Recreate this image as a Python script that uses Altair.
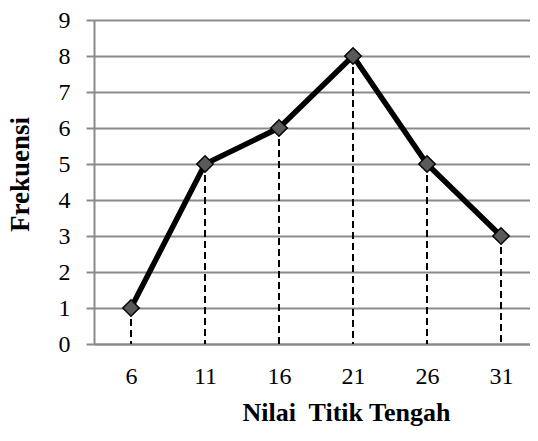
import altair as alt
import pandas as pd

midpoints = [6, 11, 16, 21, 26, 31]
frequencies = [1, 5, 6, 8, 5, 3]
y_ticks = list(range(0, 10))

df = pd.DataFrame({"x": midpoints, "y": frequencies})

FONT = "Liberation Serif"
GRID = "#8a8a8a"

PLOT_W = 436
X_STEP = 74 / 5  # pixels per unit as in the reference layout
xscale = alt.Scale(domain=[3.5, 3.5 + PLOT_W / X_STEP], nice=False, zero=False)
yscale = alt.Scale(domain=[0, 9], nice=False)

x_axis = alt.Axis(
    values=midpoints,
    grid=False,
    ticks=False,
    tickSize=0,
    domainColor=GRID,
    domainWidth=2,
    labelFont=FONT,
    labelFontSize=24,
    labelColor="black",
    labelPadding=20,
    labelBaseline="top",
    title="Nilai\u00a0 Titik Tengah",
    titleFont=FONT,
    titleFontSize=26,
    titleFontWeight="bold",
    titleColor="black",
    titleX=252,
    titleY=76,
    titleAlign="center",
    titleBaseline="alphabetic",
)

y_axis = alt.Axis(
    values=y_ticks,
    grid=True,
    gridColor=GRID,
    gridWidth=2,
    ticks=True,
    tickSize=8,
    tickColor=GRID,
    tickWidth=2,
    domainColor=GRID,
    domainWidth=2,
    labelFont=FONT,
    labelFontSize=24,
    labelColor="black",
    labelPadding=16,
    labelOverlap=False,
    title="Frekuensi",
    titleFont=FONT,
    titleFontSize=27,
    titleFontWeight="bold",
    titleColor="black",
    titleAngle=-90,
    titleX=-74,
    titleY=154,
    titleAlign="center",
    titleBaseline="middle",
)

base = alt.Chart(df).encode(
    x=alt.X("x:Q", scale=xscale, axis=x_axis),
    y=alt.Y("y:Q", scale=yscale, axis=y_axis),
)

rules = base.mark_rule(color="black", strokeWidth=2, strokeDash=[7, 4]).encode(
    y2=alt.datum(0),
)

line = base.mark_line(color="black", strokeWidth=5.5)

points = base.mark_point(
    shape="diamond", filled=True, size=270, fill="#5a5a5a", stroke="black", strokeWidth=1.5, opacity=1
)

chart = (
    alt.layer(rules, line, points)
    .properties(
        width=PLOT_W,
        height=324,
        autosize=alt.AutoSizeParams(type="none"),
        padding={"left": 86, "top": 12, "right": 0, "bottom": 82},
    )
    .configure_view(stroke=None)
    .configure(background="white")
)

chart.save("out.html", embed_options={"renderer": "svg", "actions": False})
